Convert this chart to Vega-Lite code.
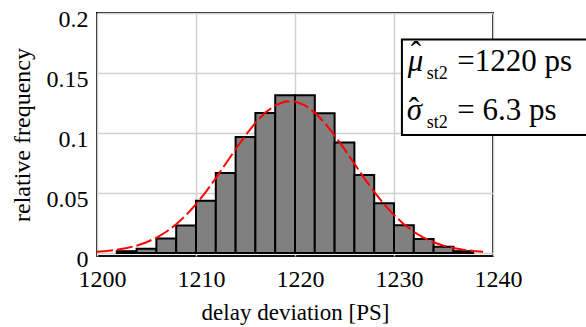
{
  "$schema": "https://vega.github.io/schema/vega-lite/v6.json",
  "width": 396,
  "height": 243,
  "autosize": {"type": "none"},
  "padding": {"left": 97, "top": 13, "right": 93, "bottom": 71},
  "background": "white",
  "config": {
    "view": {"stroke": "#111111", "strokeWidth": 2},
    "font": "Liberation Serif",
    "axisX": {
      "ticks": false, "domain": false,
      "grid": true, "gridColor": "#d0d0d0", "gridWidth": 1.5,
      "labelFont": "Liberation Serif", "labelFontSize": 24, "labelColor": "#000000",
      "labelPadding": 11, "labelOffset": 5, "labelFlush": false, "labelOverlap": false, "labelBound": false,
      "titleFont": "Liberation Serif", "titleFontSize": 23, "titleFontWeight": "normal", "titleColor": "#000000",
      "titlePadding": 10
    },
    "axisY": {
      "ticks": false, "domain": false,
      "grid": true, "gridColor": "#d0d0d0", "gridWidth": 1.5,
      "labelFont": "Liberation Serif", "labelFontSize": 24, "labelColor": "#000000",
      "labelPadding": 9, "labelOffset": 6, "labelFlush": false, "labelOverlap": false, "labelBound": false,
      "titleFont": "Liberation Serif", "titleFontSize": 24, "titleFontWeight": "normal", "titleColor": "#000000",
      "titlePadding": 12
    }
  },
  "datasets": {
    "bars": [
      {"start": 1202, "end": 1204, "freq": 0.0015},
      {"start": 1204, "end": 1206, "freq": 0.0035},
      {"start": 1206, "end": 1208, "freq": 0.012},
      {"start": 1208, "end": 1210, "freq": 0.023},
      {"start": 1210, "end": 1212, "freq": 0.0436},
      {"start": 1212, "end": 1214, "freq": 0.0667},
      {"start": 1214, "end": 1216, "freq": 0.0967},
      {"start": 1216, "end": 1218, "freq": 0.1167},
      {"start": 1218, "end": 1220, "freq": 0.1314},
      {"start": 1220, "end": 1222, "freq": 0.1314},
      {"start": 1222, "end": 1224, "freq": 0.1165},
      {"start": 1224, "end": 1226, "freq": 0.092},
      {"start": 1226, "end": 1228, "freq": 0.065},
      {"start": 1228, "end": 1230, "freq": 0.0415},
      {"start": 1230, "end": 1232, "freq": 0.0232},
      {"start": 1232, "end": 1234, "freq": 0.0116},
      {"start": 1234, "end": 1236, "freq": 0.0053},
      {"start": 1236, "end": 1238, "freq": 0.0015}
    ],
    "fit": [
      {"x": 1200, "f": 0.0011}, {"x": 1201, "f": 0.0017}, {"x": 1202, "f": 0.0027},
      {"x": 1203, "f": 0.0041}, {"x": 1204, "f": 0.0061}, {"x": 1205, "f": 0.009},
      {"x": 1206, "f": 0.0127}, {"x": 1207, "f": 0.0177}, {"x": 1208, "f": 0.0239},
      {"x": 1209, "f": 0.0316}, {"x": 1210, "f": 0.0406}, {"x": 1211, "f": 0.051},
      {"x": 1212, "f": 0.0623}, {"x": 1213, "f": 0.0744}, {"x": 1214, "f": 0.0865},
      {"x": 1215, "f": 0.0981}, {"x": 1216, "f": 0.1085}, {"x": 1217, "f": 0.117},
      {"x": 1218, "f": 0.1231}, {"x": 1219, "f": 0.1262}, {"x": 1220, "f": 0.1262},
      {"x": 1221, "f": 0.1231}, {"x": 1222, "f": 0.117}, {"x": 1223, "f": 0.1085},
      {"x": 1224, "f": 0.0981}, {"x": 1225, "f": 0.0865}, {"x": 1226, "f": 0.0744},
      {"x": 1227, "f": 0.0623}, {"x": 1228, "f": 0.051}, {"x": 1229, "f": 0.0406},
      {"x": 1230, "f": 0.0316}, {"x": 1231, "f": 0.0239}, {"x": 1232, "f": 0.0177},
      {"x": 1233, "f": 0.0127}, {"x": 1234, "f": 0.009}, {"x": 1235, "f": 0.0061},
      {"x": 1236, "f": 0.0041}, {"x": 1237, "f": 0.0027}, {"x": 1238, "f": 0.0017},
      {"x": 1239, "f": 0.0011}
    ],
    "box": [{"x": 1230.8, "x2": 1250, "y": 0.178, "y2": 0.0983}],
    "greek": [
      {"x": 1231.4, "y": 0.1517, "t": "μ"},
      {"x": 1231.3, "y": 0.1108, "t": "σ"}
    ],
    "hats": [
      {"x": 1231.7, "y": 0.1583, "t": "ˆ"},
      {"x": 1231.5, "y": 0.1117, "t": "ˆ"}
    ],
    "subs": [
      {"x": 1233.3, "y": 0.145, "t": "st2"},
      {"x": 1233.3, "y": 0.1044, "t": "st2"}
    ],
    "vals": [
      {"x": 1236.4, "y": 0.1517, "t": "=1220 ps"},
      {"x": 1236.4, "y": 0.1108, "t": "= 6.3 ps"}
    ]
  },
  "layer": [
    {
      "data": {"name": "bars"},
      "mark": {"type": "rect", "fill": "#808080", "stroke": "#000000", "strokeWidth": 2},
      "encoding": {
        "x": {
          "field": "start", "type": "quantitative", "title": "delay deviation [PS]",
          "scale": {"domain": [1200, 1240], "nice": false, "zero": false},
          "axis": {"values": [1200, 1210, 1220, 1230, 1240], "format": "d"}
        },
        "x2": {"field": "end"},
        "y": {
          "field": "freq", "type": "quantitative", "title": "relative frequency",
          "scale": {"domain": [-0.0025, 0.2], "nice": false, "zero": false},
          "axis": {"values": [0, 0.05, 0.1, 0.15, 0.2], "format": "~g"}
        },
        "y2": {"datum": 0}
      }
    },
    {
      "data": {"name": "fit"},
      "mark": {"type": "line", "color": "#ff0000", "strokeWidth": 2, "strokeDash": [16, 4]},
      "encoding": {
        "x": {"field": "x", "type": "quantitative", "title": "delay deviation [PS]"},
        "y": {"field": "f", "type": "quantitative", "title": "relative frequency"}
      }
    },
    {
      "data": {"name": "box"},
      "mark": {"type": "rect", "fill": "#ffffff", "stroke": "#000000", "strokeWidth": 2},
      "encoding": {
        "x": {"field": "x", "type": "quantitative", "title": "delay deviation [PS]"},
        "x2": {"field": "x2"},
        "y": {"field": "y", "type": "quantitative", "title": "relative frequency"},
        "y2": {"field": "y2"}
      }
    },
    {
      "data": {"name": "greek"},
      "mark": {"type": "text", "font": "Liberation Serif", "fontSize": 31, "fontStyle": "italic", "align": "left", "baseline": "alphabetic", "color": "#000000"},
      "encoding": {
        "x": {"field": "x", "type": "quantitative", "title": "delay deviation [PS]"},
        "y": {"field": "y", "type": "quantitative", "title": "relative frequency"},
        "text": {"field": "t"}
      }
    },
    {
      "data": {"name": "hats"},
      "mark": {"type": "text", "font": "Liberation Serif", "fontSize": 31, "align": "left", "baseline": "alphabetic", "color": "#000000"},
      "encoding": {
        "x": {"field": "x", "type": "quantitative", "title": "delay deviation [PS]"},
        "y": {"field": "y", "type": "quantitative", "title": "relative frequency"},
        "text": {"field": "t"}
      }
    },
    {
      "data": {"name": "subs"},
      "mark": {"type": "text", "font": "Liberation Serif", "fontSize": 18, "align": "left", "baseline": "alphabetic", "color": "#000000"},
      "encoding": {
        "x": {"field": "x", "type": "quantitative", "title": "delay deviation [PS]"},
        "y": {"field": "y", "type": "quantitative", "title": "relative frequency"},
        "text": {"field": "t"}
      }
    },
    {
      "data": {"name": "vals"},
      "mark": {"type": "text", "font": "Liberation Serif", "fontSize": 31, "align": "left", "baseline": "alphabetic", "color": "#000000"},
      "encoding": {
        "x": {"field": "x", "type": "quantitative", "title": "delay deviation [PS]"},
        "y": {"field": "y", "type": "quantitative", "title": "relative frequency"},
        "text": {"field": "t"}
      }
    }
  ]
}
